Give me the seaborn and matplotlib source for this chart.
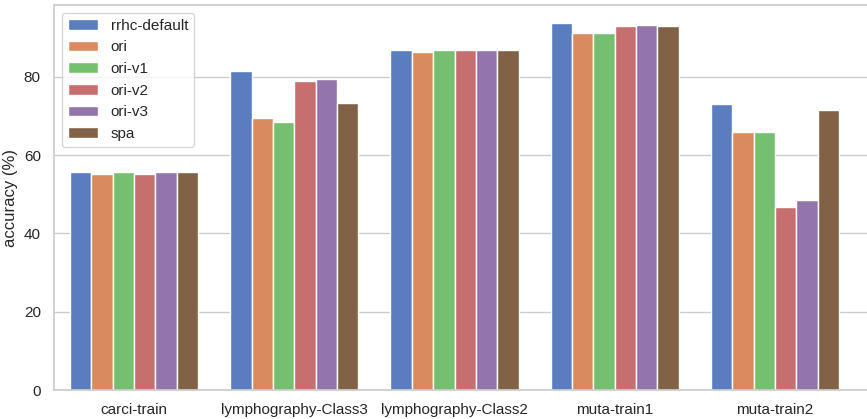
import matplotlib
matplotlib.use("Agg")
import matplotlib.pyplot as plt
import seaborn as sns
import pandas as pd

datasets = ["carci-train", "lymphography-Class3", "lymphography-Class2", "muta-train1", "muta-train2"]
methods = ["rrhc-default", "ori", "ori-v1", "ori-v2", "ori-v3", "spa"]
rrhc_default = [55.8, 81.6, 86.9, 93.7, 73.2]
ori = [55.3, 69.4, 86.3, 91.2, 65.9]
ori_v1 = [55.8, 68.6, 86.9, 91.2, 65.9]
ori_v2 = [55.3, 78.9, 86.9, 92.9, 46.8]
ori_v3 = [55.8, 79.6, 86.9, 93.4, 48.5]
spa = [55.6, 73.3, 86.9, 92.9, 71.5]

series = [rrhc_default, ori, ori_v1, ori_v2, ori_v3, spa]
rows = []
for m, vals in zip(methods, series):
    for d, v in zip(datasets, vals):
        rows.append({"dataset": d, "method": m, "accuracy": v})
df = pd.DataFrame(rows)

sns.set_theme(style="whitegrid", palette="muted")
plt.rcParams["font.family"] = ["Liberation Sans", "DejaVu Sans"]
fig = plt.figure(figsize=(8.67, 4.19), dpi=100)
ax = fig.add_axes([54 / 867, 1 - 390 / 419, 1 - 54 / 867 + 0.001, (390 - 5) / 419])
sns.barplot(data=df, x="dataset", y="accuracy", hue="method", order=datasets,
            hue_order=methods, ax=ax)
ax.set_xlim(-0.5, 4.58)
ax.set_xlabel("")
ax.set_ylabel("accuracy (%)")
ax.legend(loc="upper left")
fig.savefig("out.png", dpi=100)
